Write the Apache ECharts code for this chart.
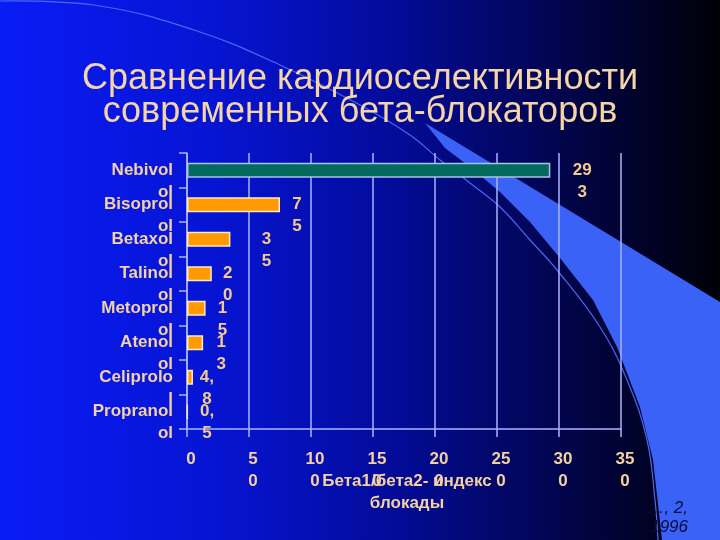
<!DOCTYPE html>
<html>
<head>
<meta charset="utf-8">
<script src="https://cdn.jsdelivr.net/npm/echarts@6/dist/echarts.min.js"></script>
<style>
html,body{margin:0;padding:0;background:#000;}
#chart{width:720px;height:540px;}
</style>
</head>
<body>
<div id="chart"></div>
<script>
// ---- data ----
const categories = ['Nebivolol','Bisoprolol','Betaxolol','Talinolol','Metoprolol','Atenolol','Celiprolol','Propranolol'];
const categoryTickLabels = ['Nebivol\nol','Bisoprol\nol','Betaxol\nol','Talinol\nol','Metoprol\nol','Atenol\nol','Celiprolo\nl','Propranol\nol'];
const values = [293, 75, 35, 20, 15, 13, 4.8, 0.5];
const valueLabels = ['29\n3','7\n5','3\n5','2\n0','1\n5','1\n3','4,\n8','0,\n5'];
const xTickLabels = ['0','5\n0','10\n0','15\n0','20\n0','25\n0','30\n0','35\n0'];
const titleText = 'Сравнение кардиоселективности\nсовременных бета-блокаторов';
const axisTitle = 'Бета1/бета2- индекс\nблокады';
const citeLines = ['…, 2,', '1996'];

// ---- styles (kept separate from data) ----
const labelShift = [32, 17, 36, 16, 17, 18, 14, 19];
const peach = '#f4d1a2';
const gridCol = '#aab4ff';
const font = 'Liberation Sans, Arial, sans-serif';

const chart = echarts.init(document.getElementById('chart'));

const seriesData = values.map((v, i) => ({
  value: v,
  itemStyle: {
    color: i === 0 ? '#046a5e' : '#ff9a00',
    borderColor: i === 0 ? '#a9c4e6' : '#ffe9c6',
    borderWidth: 1.5
  },
  label: {
    show: true,
    position: 'right',
    distance: 0,
    align: 'center',
    offset: [labelShift[i], 11],
    formatter: () => valueLabels[i]
  }
}));

const option = {
  animation: false,
  backgroundColor: {
    type: 'linear', x: 0, y: 0, x2: 1, y2: 0,
    colorStops: [
      {offset: 0, color: '#0a1cf6'},
      {offset: 0.3, color: '#0614d2'},
      {offset: 0.55, color: '#030b98'},
      {offset: 0.8, color: '#010445'},
      {offset: 1, color: '#000006'}
    ]
  },
  title: {
    text: titleText,
    left: 'center',
    top: 63,
    padding: 0,
    textStyle: {
      color: '#f5d4a8', fontSize: 36, lineHeight: 33,
      fontWeight: 'normal', fontFamily: font
    }
  },
  graphic: [
    {
      type: 'polygon', z: 0, silent: true,
      shape: {
        points: [[425,123],[720,302],[720,540],[662,540],[653,460],[640,407],[617,347],[593,300],[560,258],[530,222],[500,192],[470,167],[445,148]]
      },
      style: { fill: '#3a62f6' }
    },
    {
      type: 'polyline', z: 0, silent: true,
      shape: {
        smooth: 0.4,
        points: [[0,1],[100,6],[200,32],[280,65],[360,105],[410,135],[440,160],[470,183],[500,207],[530,240],[557,270],[600,327],[627,380],[647,440],[655,500],[658,540]]
      },
      style: { stroke: '#4a68f2', lineWidth: 1.2, fill: null }
    },
    {
      type: 'text', z: 0, silent: true,
      style: { text: citeLines[0], x: 688, y: 508, align: 'right', verticalAlign: 'middle',
        fill: '#0a0a3c', font: 'italic 17px ' + font }
    },
    {
      type: 'text', z: 0, silent: true,
      style: { text: citeLines[1], x: 688, y: 527, align: 'right', verticalAlign: 'middle',
        fill: '#0a0a3c', font: 'italic 17px ' + font }
    }
  ],
  grid: { left: 187, right: 99, top: 153, bottom: 111, containLabel: false },
  xAxis: {
    type: 'value', min: 0, max: 350, interval: 50, z: 1,
    axisLine: { show: true, lineStyle: { color: gridCol, width: 1.5 } },
    axisTick: { show: true, length: 8, lineStyle: { color: gridCol, width: 1.5 } },
    splitLine: { show: true, lineStyle: { color: gridCol, width: 1.5 } },
    axisLabel: {
      color: peach, fontSize: 17, fontWeight: 'bold', fontFamily: font,
      lineHeight: 22, margin: 19, padding: [0,0,0,8],
      formatter: (v) => xTickLabels[Math.round(v / 50)]
    },
    name: axisTitle,
    nameLocation: 'middle',
    nameGap: 41,
    nameMoveOverlap: false,
    nameTextStyle: { color: peach, fontSize: 17, fontWeight: 'bold', fontFamily: font, lineHeight: 22, verticalAlign: 'top', padding: [0,0,0,6] }
  },
  yAxis: {
    type: 'category', inverse: true, data: categories, z: 1,
    axisLine: { show: true, lineStyle: { color: gridCol, width: 1.5 } },
    axisTick: { show: true, length: 8, lineStyle: { color: gridCol, width: 1.5 } },
    splitLine: { show: false },
    axisLabel: {
      interval: 0,
      color: peach, fontSize: 17, fontWeight: 'bold', fontFamily: font,
      lineHeight: 22, margin: 14,
      formatter: (v, i) => '\n' + categoryTickLabels[i]
    }
  },
  series: [{
    type: 'bar',
    data: seriesData,
    barWidth: 15,
    z: 2,
    label: {
      color: '#f3cb8e', fontSize: 17, fontWeight: 'bold', fontFamily: font, lineHeight: 22
    }
  }]
};
chart.setOption(option);
</script>
</body>
</html>
